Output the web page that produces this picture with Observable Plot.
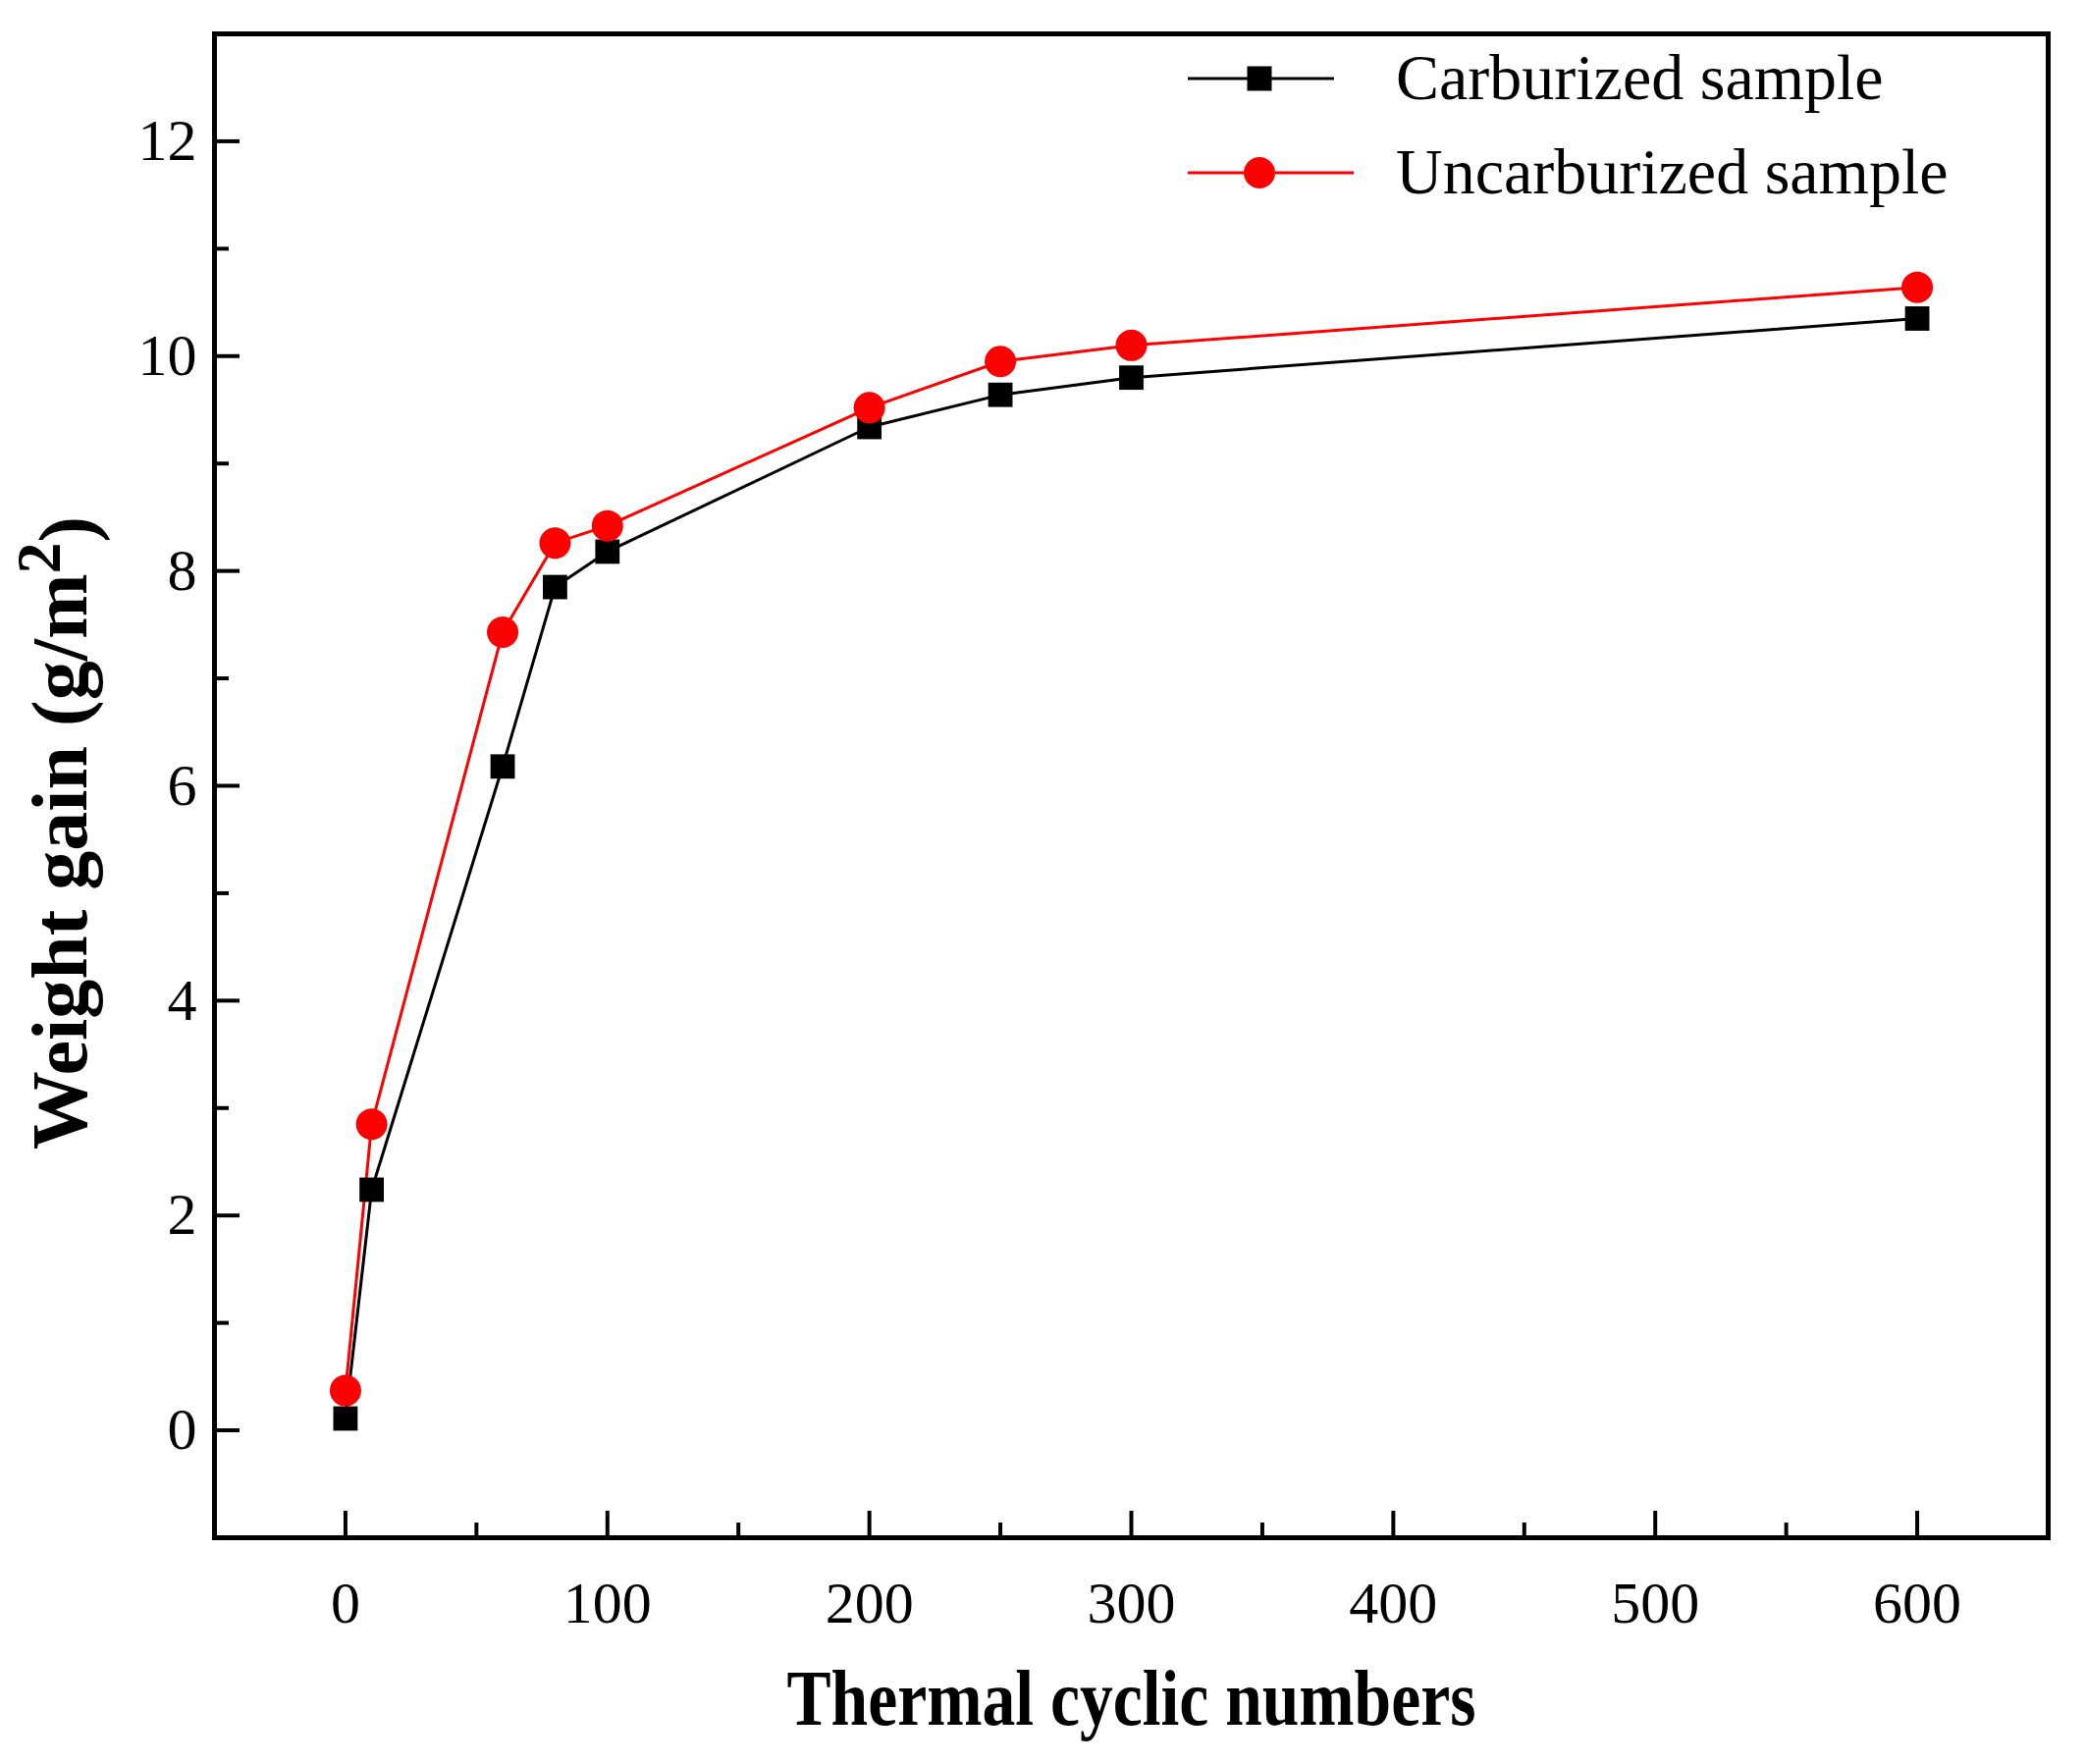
<!DOCTYPE html>
<html>
<head>
<meta charset="utf-8">
<script src="https://cdn.jsdelivr.net/npm/d3@7"></script>
<script src="https://cdn.jsdelivr.net/npm/@observablehq/plot@0.6"></script>
<style>
  body { margin: 0; background: white; }
  #chart { position: relative; width: 2124px; height: 1797px; }
</style>
</head>
<body>
<div id="chart"></div>
<script>
// valores
const cycles = [0, 10, 60, 80, 100, 200, 250, 300, 600];
const carburized = [0.11, 2.24, 6.18, 7.85, 8.18, 9.34, 9.64, 9.80, 10.35];
const uncarburized = [0.37, 2.85, 7.43, 8.26, 8.42, 9.52, 9.95, 10.10, 10.64];

const seriesNames = ['Carburized sample', 'Uncarburized sample'];
const xMajor = [0, 100, 200, 300, 400, 500, 600];
const xMinor = [-50, 50, 150, 250, 350, 450, 550];
const yMajor = [0, 2, 4, 6, 8, 10, 12];
const yMinor = [-1, 1, 3, 5, 7, 9, 11];
const xLabel = 'Thermal cyclic numbers';
const yLabel = 'Weight gain (g/m²)';

const carb = cycles.map((c, i) => ({ x: c, y: carburized[i] }));
const uncarb = cycles.map((c, i) => ({ x: c, y: uncarburized[i] }));

const serif = 'Liberation Serif';
const mLeft = 218, mRight = 38, mTop = 34, mBottom = 231;

let chart = Plot.plot({
  width: 2124,
  height: 1797,
  marginLeft: mLeft,
  marginRight: mRight,
  marginTop: mTop,
  marginBottom: mBottom,
  style: { fontFamily: serif, background: 'white', color: 'black' },
  x: { domain: [-50, 650] },
  y: { domain: [-1, 13] },
  marks: [
    // ticks hacia adentro
    Plot.axisY({ ticks: yMajor, tickSize: -26, strokeWidth: 4, tickFormat: () => '', label: null }),
    Plot.axisY({ ticks: yMinor, tickSize: -15, strokeWidth: 4, tickFormat: () => '', label: null }),
    Plot.axisX({ ticks: xMajor, tickSize: -27, strokeWidth: 4, tickFormat: () => '', label: null }),
    Plot.axisX({ ticks: xMinor, tickSize: -15, strokeWidth: 4, tickFormat: () => '', label: null }),
    // etiquetas
    Plot.axisY({ ticks: yMajor, tickSize: 0, tickPadding: 18, fontSize: 60, fontFamily: serif, label: null }),
    Plot.axisX({ ticks: xMajor, tickSize: 0, tickPadding: 44, fontSize: 60, fontFamily: serif, label: null }),
    Plot.frame({ stroke: 'black', strokeWidth: 5 }),
    Plot.line(carb, { x: 'x', y: 'y', stroke: 'black', strokeWidth: 3 }),
    Plot.line(uncarb, { x: 'x', y: 'y', stroke: '#ff0000', strokeWidth: 3 }),
    Plot.dot(carb, { x: 'x', y: 'y', symbol: 'square', r: 14, fill: 'black' }),
    Plot.dot(uncarb, { x: 'x', y: 'y', symbol: 'circle', r: 16, fill: '#ff0000' }),
    Plot.text([xLabel], {
      text: (d) => d,
      frameAnchor: 'bottom',
      textAnchor: 'middle',
      lineAnchor: 'middle',
      dy: 165,
      fontSize: 80,
      fontWeight: 'bold',
      fontFamily: serif,
      fill: 'black',
      className: 'xlab',
    }),
    Plot.text([yLabel], {
      text: (d) => d,
      frameAnchor: 'left',
      textAnchor: 'middle',
      lineAnchor: 'middle',
      rotate: -90,
      dx: -156,
      dy: 48,
      fontSize: 80,
      fontWeight: 'bold',
      fontFamily: serif,
      fill: 'black',
      className: 'ylab',
    }),
  ],
});

const svg = d3.select(chart);

// texto comprimido como en la figura original
svg.selectAll('.xlab text').attr('textLength', 702).attr('lengthAdjust', 'spacingAndGlyphs');
svg.selectAll('.ylab text').each(function () {
  const t = d3.select(this);
  t.text(null);
  t.append('tspan').text('Weight gain (g/m');
  t.append('tspan').attr('dy', '-0.42em').attr('font-size', '0.8em').text('2');
  t.append('tspan').attr('dy', '0.42em').text(')');
});

// leyenda
const legend = svg.append('g')
  .attr('font-family', serif)
  .attr('font-size', 66)
  .attr('text-anchor', 'start');
const legendColors = ['black', '#ff0000'];
const legendY = [80, 176];
const legendLineEnd = [1359, 1379];
seriesNames.forEach((name, i) => {
  const g = legend.append('g');
  g.append('line')
    .attr('x1', 1210).attr('x2', legendLineEnd[i])
    .attr('y1', legendY[i]).attr('y2', legendY[i])
    .attr('stroke', legendColors[i]).attr('stroke-width', 3);
  if (i === 0) {
    g.append('rect').attr('x', 1283 - 12.5).attr('y', legendY[i] - 12.5)
      .attr('width', 25).attr('height', 25).attr('fill', 'black');
  } else {
    g.append('circle').attr('cx', 1283).attr('cy', legendY[i]).attr('r', 16).attr('fill', '#ff0000');
  }
  g.append('text')
    .attr('x', 1422).attr('y', legendY[i]).attr('dy', '0.32em')
    .attr('text-anchor', 'start')
    .attr('fill', 'black')
    .text(name);
});

d3.select('#chart').append(() => chart);
</script>
</body>
</html>
